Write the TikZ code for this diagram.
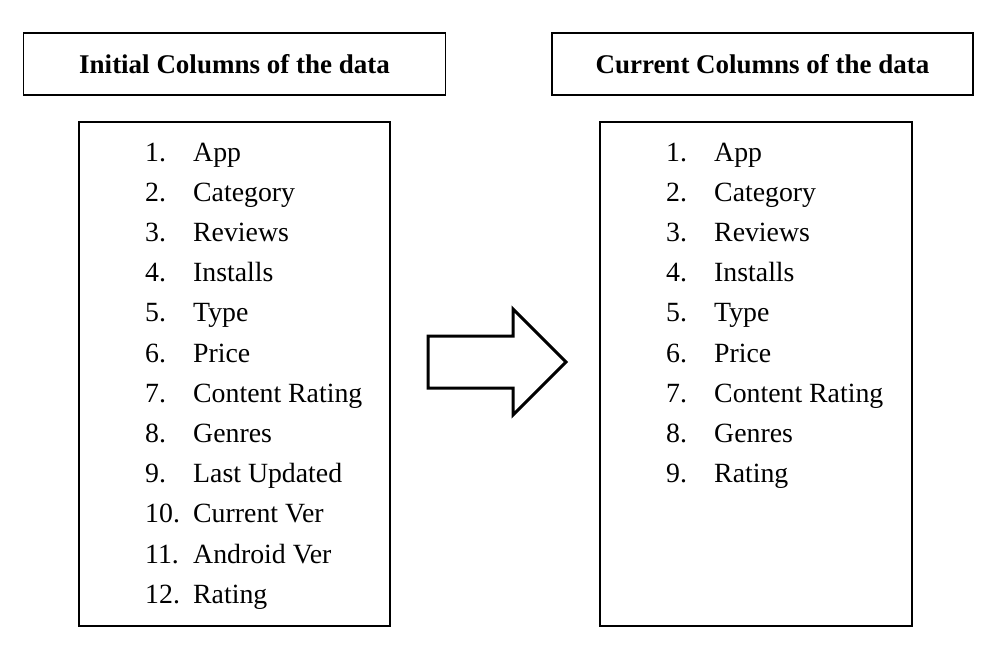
\documentclass[tikz,border=0pt]{standalone}
\usepackage{fontspec}
\setmainfont{Liberation Serif}
\begin{document}
\begin{tikzpicture}[x=1pt,y=-1pt,
  box/.style={draw=black,line width=1.5pt,rectangle,inner sep=0pt},
  titletext/.style={font=\fontsize{27}{32}\selectfont\bfseries},
  itemtext/.style={font=\fontsize{27.8}{32}\selectfont,anchor=base west,inner sep=0pt},
  bigarrow/.style={draw=black,line width=3pt,fill=white,line join=miter}]
\useasboundingbox (0,0) rectangle (1000,656);
% title boxes
\node (t1) [box,minimum width=422pt,minimum height=62pt,titletext] at (234.5,64) {Initial Columns of the data};
\node (t2) [box,minimum width=421pt,minimum height=62pt,titletext] at (762.5,64) {Current Columns of the data};
% list boxes
\node (b1) [box,minimum width=311pt,minimum height=504pt] at (234.5,374) {};
\node (b2) [box,minimum width=312pt,minimum height=504pt] at (756,374) {};
% left list
\foreach \k/\t in {1/App,2/Category,3/Reviews,4/Installs,5/Type,6/Price,7/Content Rating,8/Genres,9/Last Updated,10/Current Ver,11/Android Ver,12/Rating}{
  \node (ln\k) [itemtext] at (145,{161+(\k-1)*40.2}) {\k.};
  \node (lt\k) [itemtext] at (193,{161+(\k-1)*40.2}) {\t};
}
% right list
\foreach \k/\t in {1/App,2/Category,3/Reviews,4/Installs,5/Type,6/Price,7/Content Rating,8/Genres,9/Rating}{
  \node (rn\k) [itemtext] at (666,{161+(\k-1)*40.2}) {\k.};
  \node (rt\k) [itemtext] at (714,{161+(\k-1)*40.2}) {\t};
}
% block arrow
\draw[bigarrow] (428,336) -- (513,336) -- (513,309) -- (566,362) -- (513,415) -- (513,388) -- (428,388) -- cycle;
\end{tikzpicture}
\end{document}
